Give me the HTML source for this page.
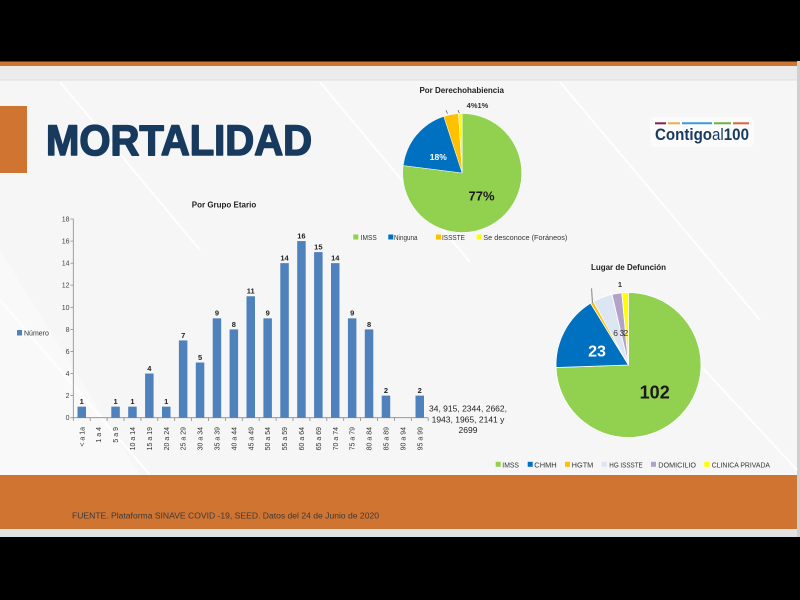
<!DOCTYPE html>
<html><head><meta charset="utf-8"><style>
html,body{margin:0;padding:0;background:#000;}
svg{display:block;}
text{font-family:"Liberation Sans",sans-serif;}
</style></head><body>
<svg width="800" height="600" viewBox="0 0 800 600" xmlns="http://www.w3.org/2000/svg">
<rect x="0" y="0" width="800" height="600" fill="#000"/>
<!-- top band -->
<rect x="0" y="61.5" width="797" height="4.5" fill="#D07431"/>
<rect x="0" y="66" width="797" height="14" fill="#ebebeb"/>
<rect x="0" y="79.5" width="797" height="1" fill="#dedede"/>
<rect x="797" y="61" width="3" height="476" fill="#cfcfcf"/>
<!-- slide bg -->
<rect x="0" y="80.5" width="797" height="394.5" fill="#f6f6f6"/>
<g stroke="#ffffff" stroke-width="2" opacity="0.9">
<line x1="60" y1="82" x2="200" y2="250"/>
<line x1="320" y1="82" x2="470" y2="262"/>
<line x1="0" y1="300" x2="150" y2="475"/>
<line x1="560" y1="82" x2="760" y2="320"/>
<line x1="640" y1="300" x2="797" y2="470"/>
</g>
<polygon points="0,250 140,475 0,475" fill="#ffffff" opacity="0.35"/>
<!-- footer -->
<rect x="0" y="475" width="797" height="54" fill="#CF7431"/>
<rect x="0" y="529" width="797" height="8" fill="#e2e2e2"/>
<text x="72" y="518.5" font-size="8" fill="#3a3a3a" textLength="307" lengthAdjust="spacingAndGlyphs">FUENTE. Plataforma SINAVE COVID -19, SEED. Datos del 24 de Junio de 2020</text>
<!-- title -->
<rect x="0" y="106" width="27" height="67" fill="#D07431"/>
<text x="46" y="155" font-size="43" font-weight="bold" fill="#173a5e" stroke="#173a5e" stroke-width="1.6" stroke-linejoin="round" textLength="266" lengthAdjust="spacingAndGlyphs">MORTALIDAD</text>
<!-- logo -->
<rect x="650" y="117" width="104" height="30" rx="6" fill="#ffffff" opacity="0.6"/>
<g stroke-width="2">
<line x1="655" y1="123.3" x2="666" y2="123.3" stroke="#8B2146"/>
<line x1="668" y1="123.3" x2="680" y2="123.3" stroke="#E8B14A"/>
<line x1="682" y1="123.3" x2="712" y2="123.3" stroke="#3A9BD5"/>
<line x1="714" y1="123.3" x2="731" y2="123.3" stroke="#6DB33F"/>
<line x1="733" y1="123.3" x2="749" y2="123.3" stroke="#E0603A"/>
</g>
<text x="655" y="140" font-size="17" fill="#173a5e" textLength="94" lengthAdjust="spacingAndGlyphs"><tspan font-weight="bold">Contigo</tspan><tspan>al</tspan><tspan font-weight="bold">100</tspan></text>

<!-- bar chart -->
<text x="224" y="207.5" font-size="8" font-weight="bold" fill="#222" text-anchor="middle">Por Grupo Etario</text>
<rect x="17" y="330" width="5" height="5.5" fill="#4F81BD"/>
<text x="24" y="335.5" font-size="7" fill="#333">Número</text>
<g stroke="#8a8a8a" stroke-width="0.8">
<line x1="73.3" y1="219" x2="73.3" y2="417.7"/>
<line x1="73.3" y1="417.7" x2="428.3" y2="417.7"/>
<line x1="70.5" y1="219" x2="73.3" y2="219"/>
<line x1="70.5" y1="241.1" x2="73.3" y2="241.1"/>
<line x1="70.5" y1="263.2" x2="73.3" y2="263.2"/>
<line x1="70.5" y1="285.2" x2="73.3" y2="285.2"/>
<line x1="70.5" y1="307.3" x2="73.3" y2="307.3"/>
<line x1="70.5" y1="329.4" x2="73.3" y2="329.4"/>
<line x1="70.5" y1="351.5" x2="73.3" y2="351.5"/>
<line x1="70.5" y1="373.6" x2="73.3" y2="373.6"/>
<line x1="70.5" y1="395.6" x2="73.3" y2="395.6"/>
<line x1="70.5" y1="417.7" x2="73.3" y2="417.7"/>
</g>
<g font-size="7" fill="#444" text-anchor="end">
<text x="69.5" y="221.5">18</text>
<text x="69.5" y="243.6">16</text>
<text x="69.5" y="265.7">14</text>
<text x="69.5" y="287.7">12</text>
<text x="69.5" y="309.8">10</text>
<text x="69.5" y="331.9">8</text>
<text x="69.5" y="354">6</text>
<text x="69.5" y="376.1">4</text>
<text x="69.5" y="398.1">2</text>
<text x="69.5" y="420.2">0</text>
</g>
<g stroke="#8a8a8a" stroke-width="0.8">
<line x1="73.3" y1="417.7" x2="73.3" y2="421"/><line x1="90.2" y1="417.7" x2="90.2" y2="421"/><line x1="107.1" y1="417.7" x2="107.1" y2="421"/><line x1="124" y1="417.7" x2="124" y2="421"/><line x1="140.9" y1="417.7" x2="140.9" y2="421"/><line x1="157.8" y1="417.7" x2="157.8" y2="421"/><line x1="174.7" y1="417.7" x2="174.7" y2="421"/><line x1="191.6" y1="417.7" x2="191.6" y2="421"/><line x1="208.5" y1="417.7" x2="208.5" y2="421"/><line x1="225.4" y1="417.7" x2="225.4" y2="421"/><line x1="242.3" y1="417.7" x2="242.3" y2="421"/><line x1="259.2" y1="417.7" x2="259.2" y2="421"/><line x1="276.1" y1="417.7" x2="276.1" y2="421"/><line x1="293" y1="417.7" x2="293" y2="421"/><line x1="309.9" y1="417.7" x2="309.9" y2="421"/><line x1="326.8" y1="417.7" x2="326.8" y2="421"/><line x1="343.7" y1="417.7" x2="343.7" y2="421"/><line x1="360.6" y1="417.7" x2="360.6" y2="421"/><line x1="377.5" y1="417.7" x2="377.5" y2="421"/><line x1="394.4" y1="417.7" x2="394.4" y2="421"/><line x1="411.3" y1="417.7" x2="411.3" y2="421"/><line x1="428.2" y1="417.7" x2="428.2" y2="421"/>
</g>
<g fill="#4F81BD">
<rect x="77.5" y="406.66" width="8.5" height="11.04"/>
<rect x="111.3" y="406.66" width="8.5" height="11.04"/>
<rect x="128.2" y="406.66" width="8.5" height="11.04"/>
<rect x="145.1" y="373.54" width="8.5" height="44.16"/>
<rect x="162" y="406.66" width="8.5" height="11.04"/>
<rect x="178.9" y="340.42" width="8.5" height="77.28"/>
<rect x="195.8" y="362.5" width="8.5" height="55.2"/>
<rect x="212.7" y="318.34" width="8.5" height="99.36"/>
<rect x="229.6" y="329.38" width="8.5" height="88.32"/>
<rect x="246.5" y="296.26" width="8.5" height="121.44"/>
<rect x="263.4" y="318.34" width="8.5" height="99.36"/>
<rect x="280.3" y="263.14" width="8.5" height="154.56"/>
<rect x="297.2" y="241.06" width="8.5" height="176.64"/>
<rect x="314.1" y="252.1" width="8.5" height="165.6"/>
<rect x="331" y="263.14" width="8.5" height="154.56"/>
<rect x="347.9" y="318.34" width="8.5" height="99.36"/>
<rect x="364.8" y="329.38" width="8.5" height="88.32"/>
<rect x="381.7" y="395.62" width="8.5" height="22.08"/>
<rect x="415.5" y="395.62" width="8.5" height="22.08"/>
</g>
<g font-size="7.5" font-weight="bold" fill="#222" text-anchor="middle">
<text x="81.75" y="404">1</text>
<text x="115.55" y="404">1</text>
<text x="132.45" y="404">1</text>
<text x="149.35" y="371">4</text>
<text x="166.25" y="404">1</text>
<text x="183.15" y="337.8">7</text>
<text x="200.05" y="359.9">5</text>
<text x="216.95" y="315.7">9</text>
<text x="233.85" y="326.8">8</text>
<text x="250.75" y="293.6">11</text>
<text x="267.65" y="315.7">9</text>
<text x="284.55" y="260.5">14</text>
<text x="301.45" y="238.4">16</text>
<text x="318.35" y="249.5">15</text>
<text x="335.25" y="260.5">14</text>
<text x="352.15" y="315.7">9</text>
<text x="369.05" y="326.8">8</text>
<text x="385.95" y="393">2</text>
<text x="419.75" y="393">2</text>
</g>
<g font-size="7" fill="#333" text-anchor="end">
<text transform="translate(84.3,427) rotate(-90)">&lt; a 1a</text>
<text transform="translate(101.2,427) rotate(-90)">1 a 4</text>
<text transform="translate(118.1,427) rotate(-90)">5 a 9</text>
<text transform="translate(135,427) rotate(-90)">10 a 14</text>
<text transform="translate(151.9,427) rotate(-90)">15 a 19</text>
<text transform="translate(168.8,427) rotate(-90)">20 a 24</text>
<text transform="translate(185.7,427) rotate(-90)">25 a 29</text>
<text transform="translate(202.6,427) rotate(-90)">30 a 34</text>
<text transform="translate(219.5,427) rotate(-90)">35 a 39</text>
<text transform="translate(236.4,427) rotate(-90)">40 a 44</text>
<text transform="translate(253.3,427) rotate(-90)">45 a 49</text>
<text transform="translate(270.2,427) rotate(-90)">50 a 54</text>
<text transform="translate(287.1,427) rotate(-90)">55 a 59</text>
<text transform="translate(304,427) rotate(-90)">60 a 64</text>
<text transform="translate(320.9,427) rotate(-90)">65 a 69</text>
<text transform="translate(337.8,427) rotate(-90)">70 a 74</text>
<text transform="translate(354.7,427) rotate(-90)">75 a 79</text>
<text transform="translate(371.6,427) rotate(-90)">80 a 84</text>
<text transform="translate(388.5,427) rotate(-90)">85 a 89</text>
<text transform="translate(405.4,427) rotate(-90)">90 a 94</text>
<text transform="translate(422.3,427) rotate(-90)">95 a 99</text>
</g>
<g font-size="8.5" fill="#222" text-anchor="middle">
<text x="468" y="411.5">34, 915, 2344, 2662,</text>
<text x="468" y="422.5">1943, 1965, 2141 y</text>
<text x="468" y="433">2699</text>
</g>

<!-- pie 1 -->
<text x="461.7" y="93" font-size="8" font-weight="bold" fill="#222" text-anchor="middle">Por Derechohabiencia</text>
<g stroke="#ffffff" stroke-width="0.5">
<path d="M462.2,173 L462.2,113.5 A59.5,59.5 0 1 1 403.17,165.54 Z" fill="#92D050"/>
<path d="M462.2,173 L403.17,165.54 A59.5,59.5 0 0 1 443.81,116.41 Z" fill="#0070C0"/>
<path d="M462.2,173 L443.81,116.41 A59.5,59.5 0 0 1 458.46,113.62 Z" fill="#FFC000"/>
<path d="M462.2,173 L458.46,113.62 A59.5,59.5 0 0 1 462.2,113.5 Z" fill="#FFFF00"/>
</g>
<g stroke="#555" stroke-width="0.7">
<line x1="446" y1="110.3" x2="447.5" y2="113.5"/>
<line x1="458" y1="110" x2="459.3" y2="113.2"/>
</g>
<text x="477.5" y="108" font-size="7.5" font-weight="bold" fill="#333" text-anchor="middle">4%1%</text>
<text x="438.3" y="160" font-size="8.5" font-weight="bold" fill="#ffffff" text-anchor="middle">18%</text>
<text x="481.5" y="200.5" font-size="13" font-weight="bold" fill="#1a1a1a" text-anchor="middle">77%</text>
<g font-size="7" fill="#333">
<rect x="353.3" y="234.5" width="5" height="5" fill="#92D050"/>
<text x="360.7" y="240" textLength="16" lengthAdjust="spacingAndGlyphs">IMSS</text>
<rect x="388.3" y="234.5" width="5" height="5" fill="#0070C0"/>
<text x="394" y="240" textLength="23.5" lengthAdjust="spacingAndGlyphs">Ninguna</text>
<rect x="436" y="234.5" width="5" height="5" fill="#FFC000"/>
<text x="442" y="240" textLength="23" lengthAdjust="spacingAndGlyphs">ISSSTE</text>
<rect x="476.7" y="234.5" width="5" height="5" fill="#FFFF00"/>
<text x="483.3" y="240" textLength="84" lengthAdjust="spacingAndGlyphs">Se desconoce (Foráneos)</text>
</g>

<!-- pie 2 -->
<text x="628.5" y="270" font-size="8" font-weight="bold" fill="#222" text-anchor="middle">Lugar de Defunción</text>
<g stroke="#ffffff" stroke-width="0.8">
<path d="M628.5,365 L628.5,292.5 A72.5,72.5 0 1 1 556.04,367.49 Z" fill="#92D050"/>
<path d="M628.5,365 L556.04,367.49 A72.5,72.5 0 0 1 590.58,303.2 Z" fill="#0070C0"/>
<path d="M628.5,365 L590.58,303.2 A72.5,72.5 0 0 1 593.45,301.53 Z" fill="#FFC000"/>
<path d="M628.5,365 L593.45,301.53 A72.5,72.5 0 0 1 612.02,294.4 Z" fill="#DCE6F2"/>
<path d="M628.5,365 L612.02,294.4 A72.5,72.5 0 0 1 621.85,292.81 Z" fill="#B3A2C7"/>
<path d="M628.5,365 L621.85,292.81 A72.5,72.5 0 0 1 628.5,292.5 Z" fill="#FFFF00"/>
</g>
<line x1="591.7" y1="288.3" x2="592.3" y2="303" stroke="#555" stroke-width="0.7"/>
<text x="620" y="287" font-size="7.5" font-weight="bold" fill="#333" text-anchor="middle">1</text>
<g font-size="8.5" fill="#333">
<text x="613.3" y="336">6</text>
<text x="619.5" y="336">3</text>
<text x="623.5" y="336">2</text>
</g>
<text x="597" y="356.5" font-size="16" font-weight="bold" fill="#ffffff" text-anchor="middle">23</text>
<text x="654.7" y="398.3" font-size="18" font-weight="bold" fill="#1a1a1a" text-anchor="middle">102</text>
<g font-size="7" fill="#333">
<rect x="495.7" y="461.8" width="5" height="5" fill="#92D050"/>
<text x="502.3" y="467.3" textLength="16.7" lengthAdjust="spacingAndGlyphs">IMSS</text>
<rect x="527.7" y="461.8" width="5" height="5" fill="#0070C0"/>
<text x="534.3" y="467.3" textLength="22.4" lengthAdjust="spacingAndGlyphs">CHMH</text>
<rect x="565" y="461.8" width="5" height="5" fill="#FFC000"/>
<text x="571.7" y="467.3" textLength="21.6" lengthAdjust="spacingAndGlyphs">HGTM</text>
<rect x="601.7" y="461.8" width="5" height="5" fill="#DCE6F2"/>
<text x="609.3" y="467.3" textLength="33.4" lengthAdjust="spacingAndGlyphs">HG ISSSTE</text>
<rect x="651" y="461.8" width="5" height="5" fill="#B3A2C7"/>
<text x="658.3" y="467.3" textLength="37.7" lengthAdjust="spacingAndGlyphs">DOMICILIO</text>
<rect x="704.3" y="461.8" width="5" height="5" fill="#FFFF00"/>
<text x="711.7" y="467.3" textLength="58.3" lengthAdjust="spacingAndGlyphs">CLINICA PRIVADA</text>
</g>
</svg>
</body></html>
